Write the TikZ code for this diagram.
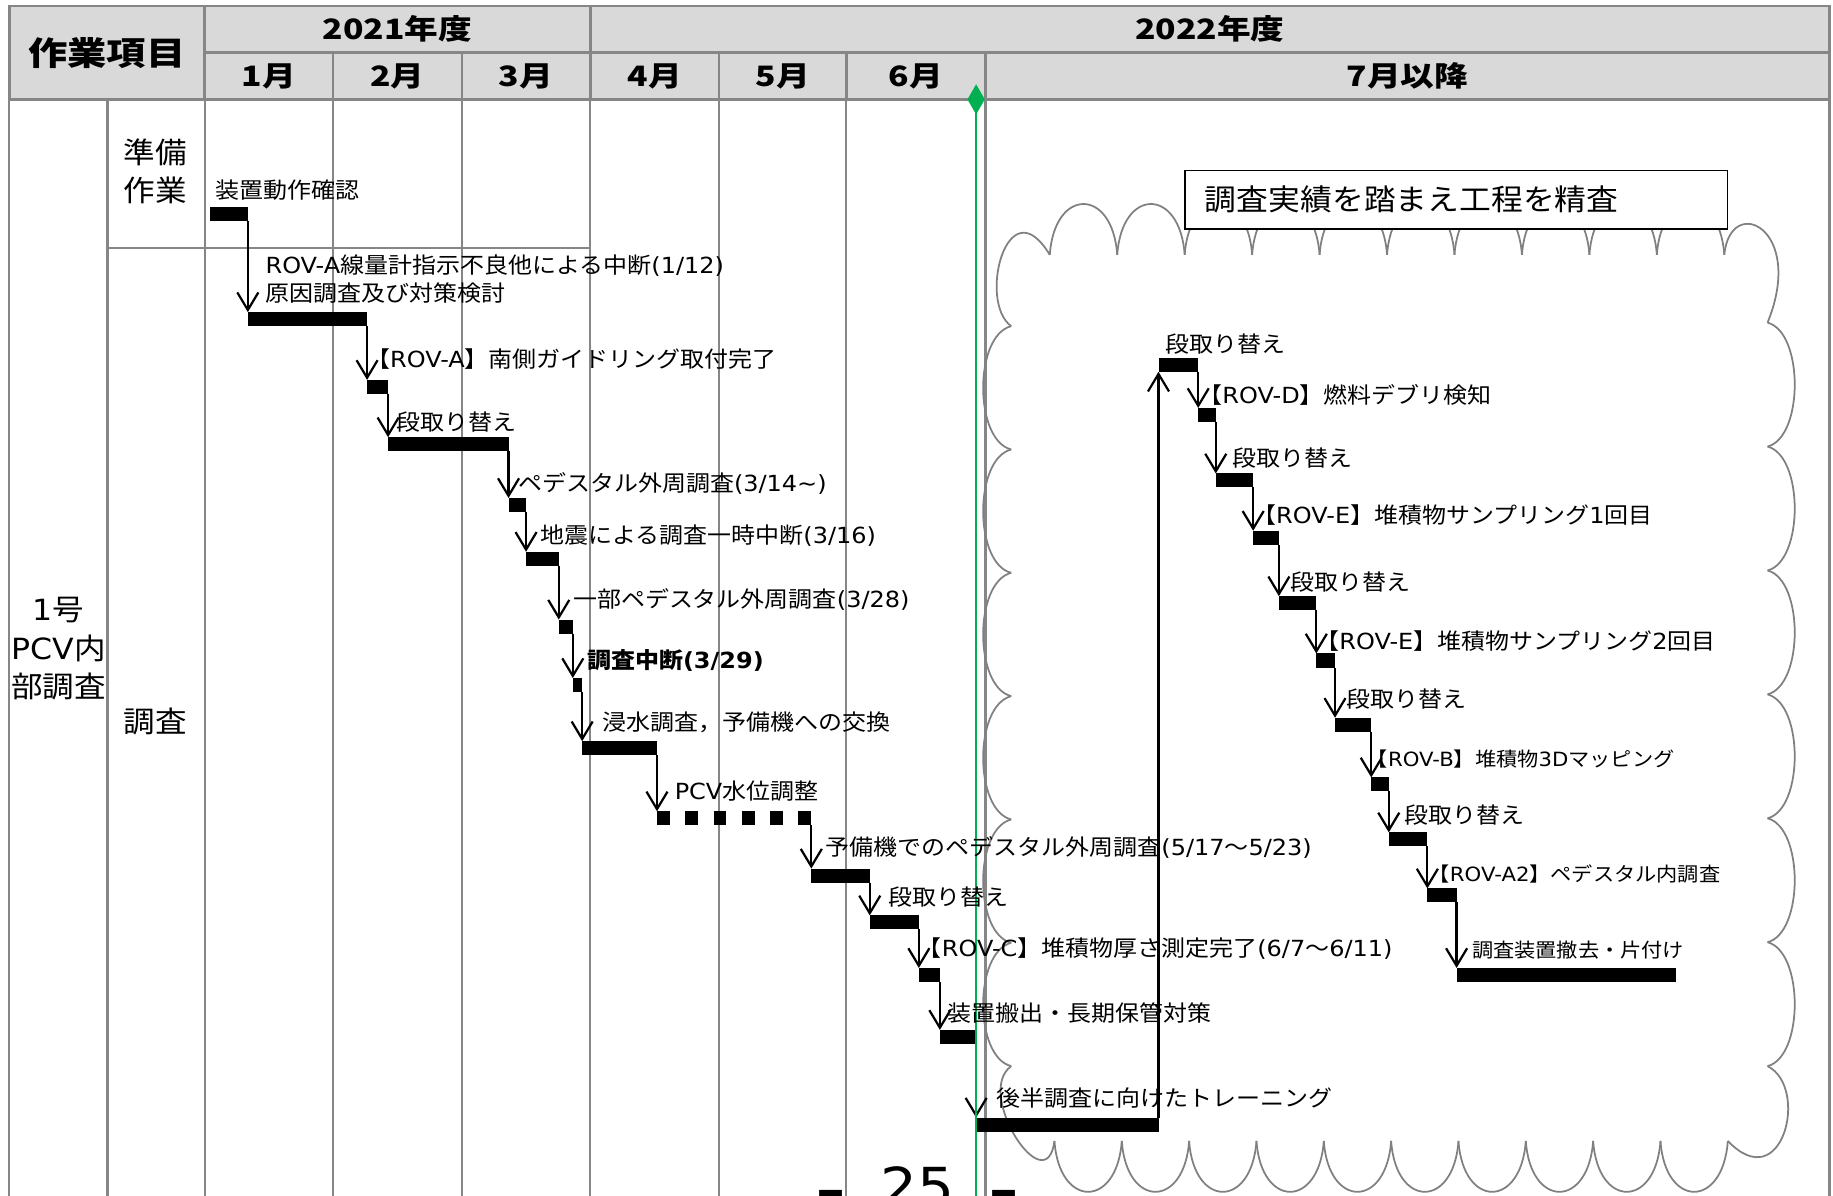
\documentclass[tikz,border=0pt]{standalone}
\usepackage{fontspec}
\setmainfont{Noto Sans CJK JP}[FakeStretch=1.08]
\newfontfamily\cjkBody{Noto Sans CJK JP}[FakeStretch=1.08]
\newfontfamily\latBody{DejaVu Sans}[FakeStretch=1.08]
\newfontfamily\headfont{Noto Sans CJK JP}[FakeStretch=1.2]
\usepackage{tikz}
\usetikzlibrary{arrows.meta, shapes.geometric}
\definecolor{headGray}{RGB}{217, 217, 217}
\definecolor{gridGray}{RGB}{134, 134, 134}
\definecolor{cloudGray}{RGB}{128, 128, 128}
\definecolor{nowGreen}{RGB}{0, 176, 80}
% 汉字用 Noto，拉丁字母用 DejaVu
\def\cjkFam{\cjkBody}
\def\latFam{\latBody}
\newcommand\headSetup{\let\cjkFam\headfont\let\latFam\headfont\headfont\bfseries}
\XeTeXinterchartokenstate=1
\newXeTeXintercharclass\cjkClass
\makeatletter
\def\setCjkRange#1#2{%
    \count@=#1\relax
    \loop\ifnum\count@<#2\relax
        \XeTeXcharclass\count@=\cjkClass
        \advance\count@\@ne
    \repeat}
\setCjkRange{"3000}{"3100}
\setCjkRange{"4E00}{"A000}
\setCjkRange{"FF00}{"FFF0}
\makeatother
\XeTeXinterchartoks 0 \cjkClass = {\cjkFam}
\XeTeXinterchartoks 4095 \cjkClass = {\cjkFam}
\XeTeXinterchartoks \cjkClass 0 = {\latFam}
\XeTeXinterchartoks 4095 0 = {\latFam}
\tikzset{
    font=\fontsize{19}{24}\selectfont,
    %
    % 表头单元格
    headCell/.style={
        rectangle, draw=gridGray, line width=2pt, fill=headGray,
        inner sep=0pt, font=\headSetup\fontsize{24}{28}\selectfont
    },
    grid/.style={draw=gridGray, line width=1.8pt},
    itemTxt/.style={align=center, inner sep=0pt, font=\fontsize{25}{33}\selectfont},
    %
    % 甘特条
    bar/.style={
        rectangle, fill=black, inner sep=0pt, outer sep=0pt,
        minimum height=12pt, anchor=north west
    },
    dotBar/.style={draw=black, line width=12pt, dash pattern=on 11pt off 13.2pt},
    %
    % 连线样式
    conn/.style={
        draw=black, line width=1.9pt,
        -{Straight Barb[length=15pt, width=18pt]}
    },
    %
    % 标签
    lbl/.style={anchor=west, inner sep=0pt},
    lblS/.style={lbl, font=\fontsize{16.8}{21}\selectfont},
    lblB/.style={lbl, font=\bfseries\fontsize{19}{24}\selectfont},
    %
    cloudLine/.style={draw=cloudGray, line width=1.5pt},
    noteBox/.style={
        rectangle, draw=black, line width=1.5pt, fill=white, anchor=north west,
        inner xsep=17pt, inner ysep=0pt, text width=430pt, minimum height=50pt,
        align=left, font=\fontsize{25.2}{30}\selectfont
    },
    nowMark/.style={diamond, fill=nowGreen, inner sep=0pt, minimum width=15pt, minimum height=26pt},
    nowLine/.style={draw=nowGreen, line width=1.8pt},
    pageNo/.style={anchor=base, inner sep=0pt, font=\fontsize{46}{50}\selectfont}
}

\begin{document}
\begin{tikzpicture}[x=1pt, y=-1pt]
    \useasboundingbox (0,0) rectangle (1568,1023);
    \clip (0,0) rectangle (1568,1023);

    %% 表头
    \node[headCell, minimum width=167pt, minimum height=80pt,
          font=\headSetup\fontsize{28}{32}\selectfont] (item) at (91.5,45) {作業項目};
    \node[headCell, minimum width=330pt, minimum height=40pt] (fy21) at (340,25) {2021年度};
    \node[headCell, minimum width=1060pt, minimum height=40pt] (fy22) at (1035,25) {2022年度};
    \foreach \n/\xa/\xb/\t in {1/175/285/1月, 2/285/395/2月, 3/395/505/3月, 4/505/615/4月,
                               5/615/724/5月, 6/724/843/6月, 7/843/1565/7月以降}
        \node[headCell, minimum width={(\xb-\xa)*1pt}, minimum height=40pt] (m\n) at ({(\xa+\xb)/2},65) {\t};

    %% 网格线
    \foreach \gx in {8,92,175,285,395,505,615,724,843,1565}
        \draw[grid] (\gx,85) -- (\gx,1030);
    \draw[grid] (92,212) -- (505,212);

    %% 左栏
    \node[itemTxt] (unit) at (50,555) {1号\\PCV内\\部調査};
    \node[itemTxt] (prep) at (133,146.5) {準備\\作業};
    \node[itemTxt] (surv) at (133,617) {調査};

    %% 云形
    \foreach \i in {0,...,9}
        \draw[cloudLine] ({898+57.7*\i},218) .. controls ({902+57.7*\i},160) and ({951.7+57.7*\i},160) .. ({955.7+57.7*\i},218);
    \foreach \k in {0,...,5}
        \draw[cloudLine] (1512,{276+106*\k}) .. controls (1543,{284+106*\k}) and (1543,{374+106*\k}) .. (1512,{382+106*\k});
    \foreach \j in {0,...,9}
        \draw[cloudLine] ({902+57.6*\j},976) .. controls ({906+57.6*\j},1034) and ({955.6+57.6*\j},1034) .. ({959.6+57.6*\j},976);
    \foreach \k in {0,...,5}
        \draw[cloudLine] (865,{279+105.5*\k}) .. controls (833,{287+105.5*\k}) and (833,{376.5+105.5*\k}) .. (865,{384.5+105.5*\k});
    \draw[cloudLine] (865,279) .. controls (836,258) and (862,158) .. (898,218);
    \draw[cloudLine] (1475,218) .. controls (1480,165) and (1545,195) .. (1512,276);
    \draw[cloudLine] (1512,912) .. controls (1548,930) and (1525,1025) .. (1478,976);
    \draw[cloudLine] (902,976) .. controls (895,1030) and (833,935) .. (865,912);

    %% 说明框
    \node[noteBox] (note) at (1013,145) {調査実績を踏まえ工程を精査};

    %% 甘特条
    \foreach \n/\xa/\xb/\yt in {1/180/212/177, 2/212/314/267, 3/314/332/325, 4/332/435/374,
                                5/435/450/426, 6/450/478/472, 7/478/490/530, 8/490/498/580,
                                9/498/562/634, 11/694/744/743, 12/744/786/783, 13/786/804/828,
                                14/804/835/881, 15/835/991/956, 16/991/1025/306, 17/1025/1040/349,
                                18/1040/1072/405, 19/1072/1094/454, 20/1094/1126/510, 21/1126/1142/559,
                                22/1142/1173/614, 23/1173/1188/665, 24/1188/1221/712, 25/1221/1246/760,
                                26/1246/1434/828}
        \node[bar, minimum width={(\xb-\xa)*1pt}] (b\n) at (\xa,\yt) {};
    \node[bar, fill=none, minimum width=132pt] (b10) at (562,694) {};
    \draw[dotBar] (b10.west) -- (b10.east);

    %% 连线
    \foreach \a/\b in {1/2, 2/3, 3/4, 4/5, 5/6, 6/7, 7/8, 8/9, 9/10, 10/11, 11/12, 12/13, 13/14, 14/15,
                       16/17, 17/18, 18/19, 19/20, 20/21, 21/22, 22/23, 23/24, 24/25, 25/26}
        \draw[conn] (b\a.south east) -- (b\a.south east |- b\b.north);
    \draw[conn] (b15.north east) -- (b15.north east |- b16.south);

    %% 基准线
    \coordinate (nowEnd) at (835,1030);
    \draw[nowLine] (835,85) -- (nowEnd);
    \node[nowMark] (now) at (835,85) {};

    %% 标签
    \node[lbl] (l1) at (184,162.5) {装置動作確認};
    \node[lbl, align=left] (l2) at (227,239) {ROV-A線量計指示不良他による中断(1/12)\\原因調査及び対策検討};
    \node[lbl] (l3) at (313,307) {【ROV-A】南側ガイドリング取付完了};
    \node[lbl] (l4) at (339,361) {段取り替え};
    \node[lbl] (l5) at (443,414) {ペデスタル外周調査(3/14\textasciitilde)};
    \node[lbl] (l6) at (462,458) {地震による調査一時中断(3/16)};
    \node[lbl] (l7) at (490,513) {一部ペデスタル外周調査(3/28)};
    \node[lblB] (l8) at (502,565) {調査中断(3/29)};
    \node[lbl] (l9) at (515,618) {浸水調査，予備機への交換};
    \node[lbl] (l10) at (577,677) {PCV水位調整};
    \node[lbl] (l11) at (706,725) {予備機でのペデスタル外周調査(5/17～5/23)};
    \node[lbl] (l12) at (760,767) {段取り替え};
    \node[lbl] (l13) at (785,811) {【ROV-C】堆積物厚さ測定完了(6/7～6/11)};
    \node[lbl] (l14) at (810,867) {装置搬出・長期保管対策};
    \node[lbl] (l15) at (852,939) {後半調査に向けたトレーニング};
    \node[lbl] (l16) at (997,294) {段取り替え};
    \node[lbl] (l17) at (1025,338) {【ROV-D】燃料デブリ検知};
    \node[lbl] (l18) at (1054,392) {段取り替え};
    \node[lbl] (l19) at (1071,441) {【ROV-E】堆積物サンプリング1回目};
    \node[lbl] (l20) at (1104,498) {段取り替え};
    \node[lbl] (l21) at (1125,548) {【ROV-E】堆積物サンプリング2回目};
    \node[lbl] (l22) at (1152,598) {段取り替え};
    \node[lblS] (l23) at (1169,649) {【ROV-B】堆積物3Dマッピング};
    \node[lbl] (l24) at (1201,697) {段取り替え};
    \node[lblS] (l25) at (1222,748) {【ROV-A2】ペデスタル内調査};
    \node[lblS] (l26) at (1259,813) {調査装置撤去・片付け};

    %% 页码
    \node[pageNo] (pg) at (785,1032) {\raisebox{-2pt}{\bfseries –}\hspace{30pt}25\hspace{30pt}\raisebox{-2pt}{\bfseries –}};

\end{tikzpicture}
\end{document}
